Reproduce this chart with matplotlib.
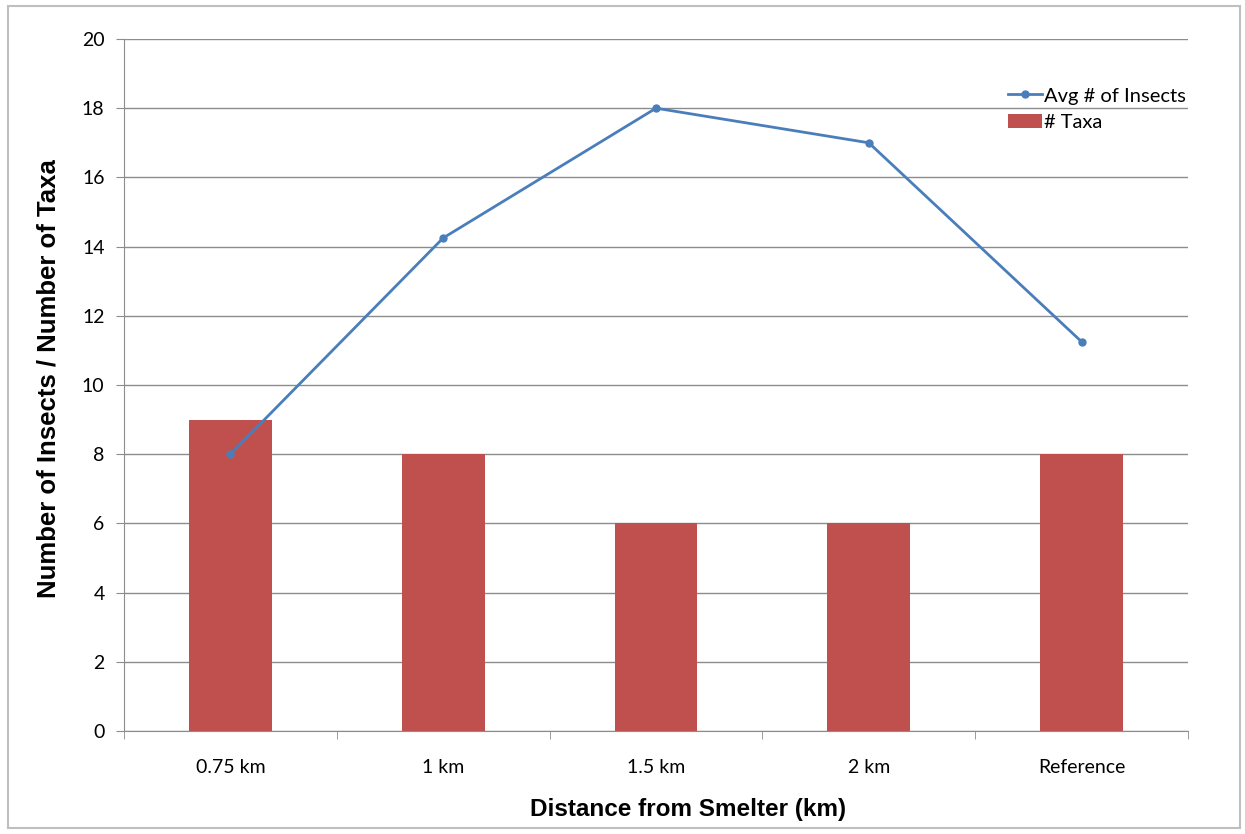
import numpy as np
import matplotlib
matplotlib.use("Agg")
import matplotlib.pyplot as plt
from matplotlib.patches import Rectangle

categories = ["0.75 km", "1 km", "1.5 km", "2 km", "Reference"]
taxa = [9, 8, 6, 6, 8]
avg_insects = [8, 14.25, 18, 17, 11.25]

fig = plt.figure(figsize=(12.45, 8.34), dpi=100)
ax = fig.add_axes([124/1245, 1 - 731/834, (1188 - 124)/1245, (731 - 39)/834])

x = np.arange(len(categories))
ax.set_axisbelow(True)
ax.yaxis.grid(True, color="#8c8c8c", linewidth=1)
ax.bar(x, taxa, width=0.39, color="#C0504D", label="# Taxa", zorder=2)
ax.plot(x, avg_insects, color="#4A7EBB", linewidth=2, marker="o", markersize=5,
        label="Avg # of Insects", zorder=3)

ax.set_xlim(-0.5, 4.5)
ax.set_ylim(0, 20)
ax.set_yticks(np.arange(0, 21, 2))
ax.set_xticks(x)
ax.set_xticklabels(categories, fontfamily="Lato", fontsize=14)
ax.set_xticks(np.arange(-0.5, 5, 1), minor=True)
ax.tick_params(axis="x", which="major", length=0, pad=20)
ax.tick_params(axis="x", which="minor", length=6, color="#8c8c8c", direction="out")
ax.tick_params(axis="y", length=6, color="#8c8c8c", labelsize=14, pad=8)
for lab in ax.get_yticklabels():
    lab.set_fontfamily("Lato")

for side in ["top", "right"]:
    ax.spines[side].set_visible(False)
ax.spines["left"].set_color("#8c8c8c")
ax.spines["bottom"].set_color("#8c8c8c")

ax.set_xlabel("Distance from Smelter (km)", fontsize=17.5, fontweight="bold",
              fontfamily="Liberation Sans")
ax.set_ylabel("Number of Insects / Number of Taxa", fontsize=18.5, fontweight="bold",
              fontfamily="Liberation Sans")
ax.xaxis.set_label_coords(0.53, -0.097)
ax.yaxis.set_label_coords(-0.06, 0.51)

leg = ax.legend(loc="upper right", bbox_to_anchor=(0.998, 0.93), frameon=False,
                prop={"family": "Lato", "size": 14.5}, handlelength=1.7,
                handletextpad=0.1, labelspacing=0.45, borderpad=0, borderaxespad=0)

fig.patches.append(Rectangle((8/1245, 6/834), 1232/1245, 822/834, transform=fig.transFigure,
                             fill=False, edgecolor="#bfbfbf", linewidth=1.5))

fig.savefig("out.png", dpi=100)
